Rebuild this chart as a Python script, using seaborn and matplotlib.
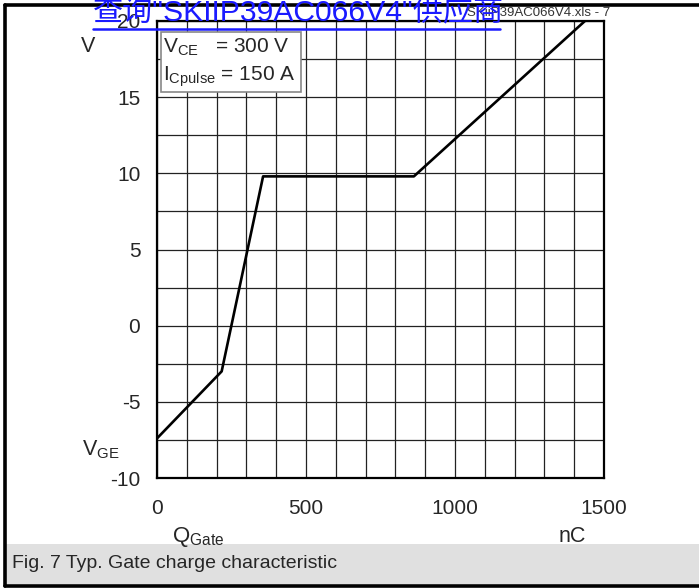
import matplotlib
matplotlib.use("Agg")
import matplotlib.pyplot as plt
import seaborn as sns
import numpy as np
import pandas as pd
from matplotlib.lines import Line2D
from matplotlib.patches import Rectangle

# ---- data ----
q_gate = [0, 217, 356, 862, 1436]          # nC
v_ge = [-7.4, -3.0, 9.8, 9.8, 20.0]        # V
x_ticks = [0, 500, 1000, 1500]
y_ticks = [-10, -5, 0, 5, 10, 15, 20]
x_grid_step = 100
y_grid_step = 2.5
legend_lines = [r"V$_{\mathrm{CE}}$   = 300 V", r"I$_{\mathrm{Cpulse}}$ = 150 A"]
caption = "Fig. 7 Typ. Gate charge characteristic"
link_text = "查询\"SKIIP39AC066V4\"供应商"
file_text = "SKiiP39AC066V4.xls - 7"

sns.set_style("white")
plt.rcParams["font.family"] = ["Liberation Sans", "Noto Sans CJK SC", "DejaVu Sans"]
plt.rcParams["mathtext.fontset"] = "custom"
plt.rcParams["mathtext.rm"] = "Liberation Sans"
plt.rcParams["mathtext.it"] = "Liberation Sans"
plt.rcParams["axes.unicode_minus"] = False

W, H = 699, 588
fig = plt.figure(figsize=(W / 100, H / 100), dpi=100)


def fx(px):
    return px / W


def fy(py):
    return 1 - py / H


L, R, T, B = 157, 604, 21, 478
ax = fig.add_axes([fx(L), fy(B), fx(R) - fx(L), fy(T) - fy(B)])

df = pd.DataFrame({"Q": q_gate, "V": v_ge})
sns.lineplot(data=df, x="Q", y="V", ax=ax, color="black", lw=1.9, zorder=5, sort=False)

ax.set_xlim(0, 1500)
ax.set_ylim(-10, 20)
ax.set_xticks(x_ticks)
ax.set_yticks(y_ticks)
ax.set_xticks(np.arange(0, 1501, x_grid_step), minor=True)
ax.set_yticks(np.arange(-10, 20.01, y_grid_step), minor=True)
ax.grid(which="both", color="#222222", lw=0.9)
ax.tick_params(which="both", length=0)
ax.tick_params(axis="x", pad=15, labelsize=15)
ax.tick_params(axis="y", pad=12, labelsize=15)
ax.set_xlabel("")
ax.set_ylabel("")
for s in ax.spines.values():
    s.set_visible(True)
    s.set_color("black")
    s.set_linewidth(1.6)

# legend box
box = Rectangle((fx(161), fy(92)), fx(301) - fx(161), fy(32) - fy(92),
                transform=fig.transFigure, facecolor="white", edgecolor="#888888",
                lw=1.2, zorder=10)
fig.patches.append(box)
fig.text(fx(163), fy(47), legend_lines[0], fontsize=15, va="center", ha="left", zorder=11)
fig.text(fx(163), fy(77), legend_lines[1], fontsize=15, va="center", ha="left", zorder=11)

# axis labels
fig.text(fx(88), fy(47), "V", fontsize=15.5, ha="center", va="center")
fig.text(fx(82), fy(450), r"V$_{\mathrm{GE}}$", fontsize=15.5, ha="left", va="center")
fig.text(fx(172), fy(537), r"Q$_{\mathrm{Gate}}$", fontsize=16, ha="left", va="center")
fig.text(fx(572), fy(537), "nC", fontsize=15.5, ha="center", va="center")

# caption band
band = Rectangle((fx(5), fy(584)), fx(699) - fx(5), fy(544) - fy(584),
                 transform=fig.transFigure, facecolor="#e0e0e0", edgecolor="none", zorder=1)
fig.patches.append(band)
fig.text(fx(12), fy(564), caption, fontsize=14, ha="left", va="center", zorder=2)

# border lines
fig.add_artist(Line2D([fx(5), fx(699)], [fy(5), fy(5)], color="black", lw=2.6))
fig.add_artist(Line2D([fx(5), fx(5)], [fy(5), fy(586)], color="black", lw=2.6))
fig.add_artist(Line2D([fx(5), fx(699)], [fy(586), fy(586)], color="black", lw=2.6))

# header texts
fig.text(fx(610), fy(16), file_text, fontsize=9.5, color="#333333", ha="right",
         va="baseline", zorder=3)
fig.text(fx(93), fy(21), link_text, fontsize=21.7, color="#1a1aff", ha="left",
         va="baseline", zorder=20)
fig.add_artist(Line2D([fx(93), fx(500)], [fy(29), fy(29)], color="#1a1aff", lw=1.8, zorder=20))

fig.savefig("out.png", dpi=100)
